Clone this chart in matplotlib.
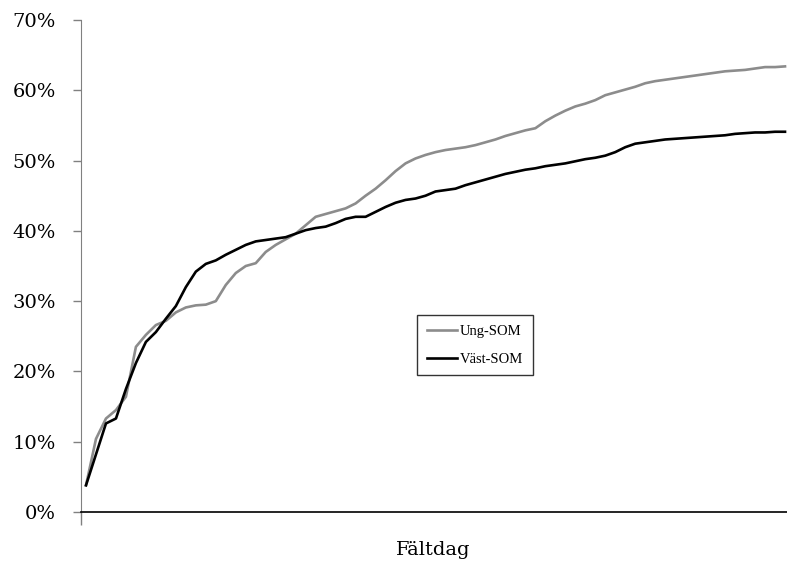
import matplotlib
matplotlib.use("Agg")
import matplotlib.pyplot as plt
from matplotlib.ticker import FuncFormatter, MultipleLocator

plt.rcParams['font.family'] = ['DejaVu Serif', 'Liberation Serif']

ung_som = [3.8, 10.4, 13.3, 14.5, 16.4, 23.5, 25.2, 26.6, 27.2, 28.4,
           29.1, 29.4, 29.5, 30.0, 32.3, 34.0, 35.0, 35.4, 37.0, 38.0,
           38.8, 39.6, 40.8, 42.0, 42.4, 42.8, 43.2, 43.9, 45.0, 46.0,
           47.2, 48.5, 49.6, 50.3, 50.8, 51.2, 51.5, 51.7, 51.9, 52.2,
           52.6, 53.0, 53.5, 53.9, 54.3, 54.6, 55.6, 56.4, 57.1, 57.7,
           58.1, 58.6, 59.3, 59.7, 60.1, 60.5, 61.0, 61.3, 61.5, 61.7,
           61.9, 62.1, 62.3, 62.5, 62.7, 62.8, 62.9, 63.1, 63.3, 63.3, 63.4]
vast_som = [3.8, 8.2, 12.6, 13.3, 17.5, 21.2, 24.2, 25.6, 27.5, 29.3,
            32.0, 34.2, 35.3, 35.8, 36.6, 37.3, 38.0, 38.5, 38.7, 38.9,
            39.1, 39.6, 40.1, 40.4, 40.6, 41.1, 41.7, 42.0, 42.0, 42.7,
            43.4, 44.0, 44.4, 44.6, 45.0, 45.6, 45.8, 46.0, 46.5, 46.9,
            47.3, 47.7, 48.1, 48.4, 48.7, 48.9, 49.2, 49.4, 49.6, 49.9,
            50.2, 50.4, 50.7, 51.2, 51.9, 52.4, 52.6, 52.8, 53.0, 53.1,
            53.2, 53.3, 53.4, 53.5, 53.6, 53.8, 53.9, 54.0, 54.0, 54.1, 54.1]
days = list(range(1, len(ung_som) + 1))
series_labels = ['Ung-SOM', 'Väst-SOM']
x_label = 'Fältdag'

fig = plt.figure(figsize=(7.87, 5.61), dpi=100)
ax = fig.add_axes([81/787, 49/561, 706/787, 492/561])

ax.plot(days, ung_som, color='#8c8c8c', lw=1.9, label=series_labels[0])
ax.plot(days, vast_som, color='black', lw=1.9, label=series_labels[1])

ax.set_ylim(0, 70)
ax.set_xlim(days[0] - 0.5, days[-1] + 0.2)
ax.yaxis.set_major_locator(MultipleLocator(10))
ax.yaxis.set_major_formatter(FuncFormatter(lambda v, p: f"{int(round(v))}%"))
ax.set_xticks([days[0] - 0.5])
ax.set_xticklabels([''])
ax.tick_params(axis='x', direction='out', length=9, width=1, color='#808080')
ax.tick_params(axis='y', direction='out', length=6, width=1, color='#808080',
               labelsize=14, pad=12)

for s in ['top', 'right']:
    ax.spines[s].set_visible(False)
ax.spines['left'].set_color('#808080')
ax.spines['bottom'].set_color('black')
ax.spines['bottom'].set_linewidth(1.2)

fig.text(433/787, 1 - 555/561, x_label, fontsize=14, ha='center',
         va='baseline')

leg = ax.legend(loc='center', bbox_to_anchor=(0.558, 0.339),
                prop={'family': ['Liberation Serif'], 'size': 10.5},
                frameon=True, fancybox=False, edgecolor='black',
                handlelength=2.1, borderpad=0.65, labelspacing=1.0,
                handletextpad=0.2, borderaxespad=0)
leg.get_frame().set_linewidth(1.0)

fig.savefig('out.png', dpi=100)
